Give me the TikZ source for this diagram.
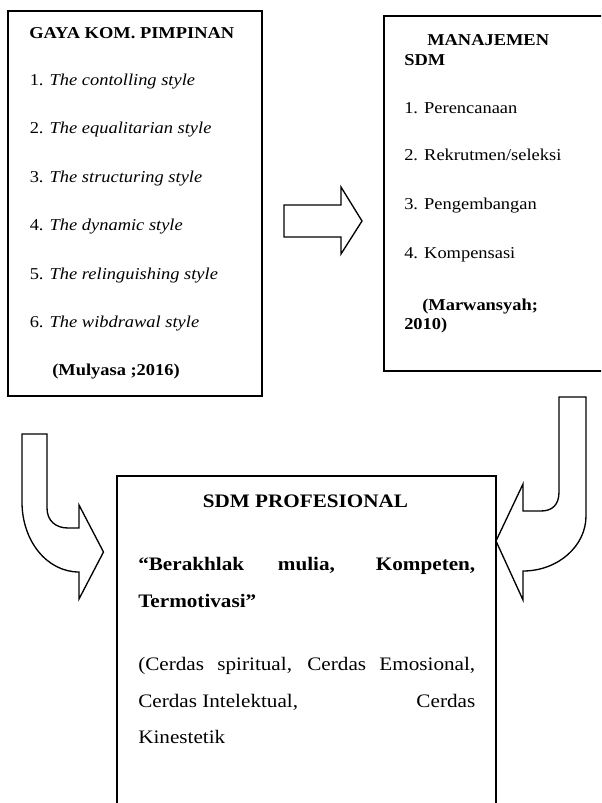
\documentclass[tikz,border=0pt]{standalone}
\usepackage{fontspec}
\setmainfont{Liberation Serif}[FakeStretch=1.11]
\usepackage{tikz}

\begin{document}
\begin{tikzpicture}[x=0.75pt, y=-0.75pt, font=\fontsize{12.45}{15}\selectfont,
    every node/.style={inner sep=0pt, anchor=base west},
    box/.style={draw, line width=1.4pt},
    big/.style={font=\fontsize{14.3}{17}\selectfont},
    blockarrow/.style={draw, line width=1pt, line join=miter}]
    \useasboundingbox (0,0) rectangle (601,803);
    \clip (0,0) rectangle (601,803);

    % the three boxes
    \draw[box] (8,11) rectangle (262,396);
    \draw[box] (384,16) rectangle (620,371);
    \draw[box] (117,476) rectangle (496,830);

    \node (gaya) at (29,38) {\textbf{GAYA KOM. PIMPINAN}};
    \node (g1) at (29.5,85) {1. \textit{The contolling style}};
    \node (g2) at (29.5,133.5) {2. \textit{The equalitarian style}};
    \node (g3) at (29.5,182) {3. \textit{The structuring style}};
    \node (g4) at (29.5,230.5) {4. \textit{The dynamic style}};
    \node (g5) at (29.5,279) {5. \textit{The relinguishing style}};
    \node (g6) at (29.5,327.5) {6. \textit{The wibdrawal style}};
    \node (mulyasa) at (52,375) {\textbf{(Mulyasa ;2016)}};

    \node (manajemen) at (427,45) {\textbf{MANAJEMEN}};
    \node (sdm) at (404,65) {\textbf{SDM}};
    \node (m1) at (404,113) {1. Perencanaan};
    \node (m2) at (404,160) {2. Rekrutmen/seleksi};
    \node (m3) at (404,209) {3. Pengembangan};
    \node (m4) at (404,258) {4. Kompensasi};
    \node (marwansyah) at (422,310) {\textbf{(Marwansyah;}};
    \node (tahun) at (404,329) {\textbf{2010)}};

    \node (profesional) [big, anchor=base] at (305.5,507) {\textbf{SDM PROFESIONAL}};
    \node (akhlak) [big] at (138,570) {\makebox[252.75pt][s]{\textbf{“Berakhlak mulia, Kompeten,}}};
    \node (motivasi) [big] at (138,607) {\textbf{Termotivasi”}};
    \node (cerdas1) [big] at (138,670) {\makebox[252.75pt][s]{(Cerdas spiritual, Cerdas Emosional,}};
    \node (cerdas2) [big] at (138,707) {\hbox to 252.75pt{Cerdas Intelektual,\hfill Cerdas}};
    \node (cerdas3) [big] at (138,743) {Kinestetik};

    % block arrows
    \draw[blockarrow] (284,205) -- (341,205) -- (341,187) -- (362,221)
        -- (341,254) -- (341,237) -- (284,237) -- cycle;
    \draw[blockarrow] (22,434) -- (47,434) -- (47,508)
        .. controls (47,521) and (56,528) .. (68,528) -- (79,528) -- (79,505)
        -- (103.5,552) -- (79,599) -- (79,572)
        .. controls (47,572) and (22,541) .. (22,502) -- cycle;
    \draw[blockarrow] (586,397) -- (559,397) -- (559,492)
        .. controls (559,505) and (552,511) .. (541,511) -- (523,511) -- (523,484)
        -- (496,541) -- (523,600) -- (523,571)
        .. controls (558,571) and (586,546) .. (586,516) -- cycle;
\end{tikzpicture}
\end{document}
